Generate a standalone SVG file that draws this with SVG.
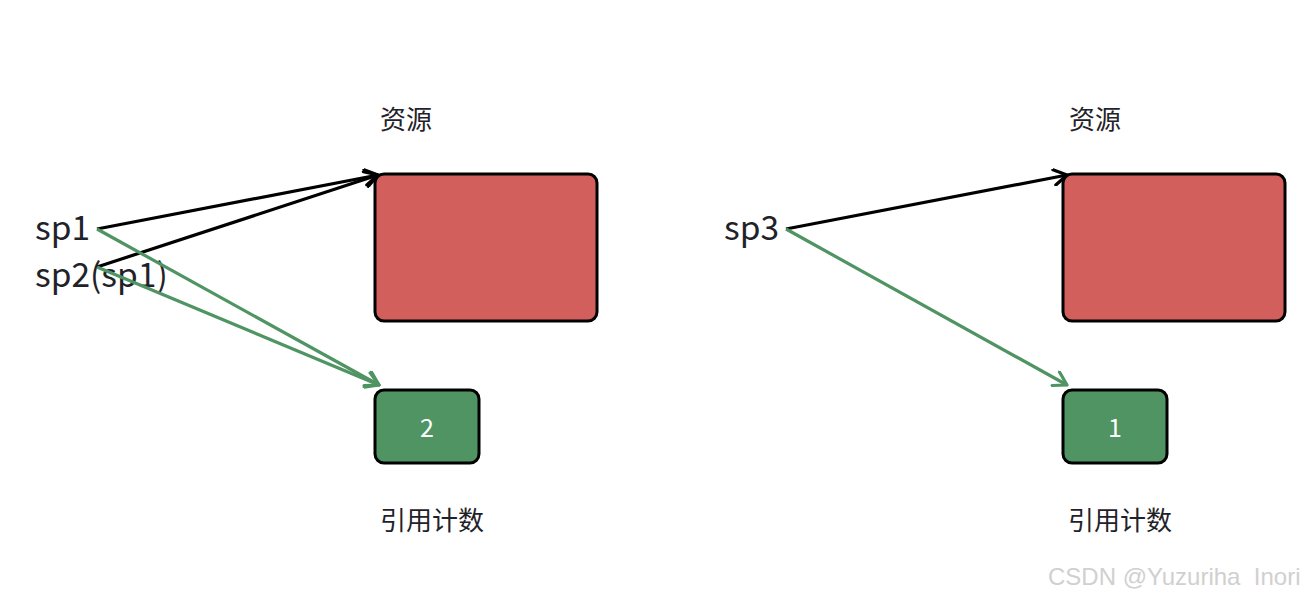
<svg xmlns="http://www.w3.org/2000/svg" width="1308" height="599" viewBox="0 0 1308 599">
<style>
.lbl{font-family:"Noto Sans CJK SC","Noto Sans",sans-serif;fill:#1f2329}
.sp{font-size:33.5px}
.cap{font-size:26px}
.res{fill:#d35f5c;stroke:#000;stroke-width:3}
.cnt{fill:#4f9462;stroke:#000;stroke-width:3}
.num{font-family:"Noto Sans CJK SC","Noto Sans",sans-serif;font-size:25px;fill:#fff;text-anchor:middle}
.blk{stroke:#000;stroke-width:3.2;fill:none;marker-end:url(#ab)}
.grn{stroke:#4f9462;stroke-width:3.2;fill:none;marker-end:url(#ag)}
.wm{font-family:"Liberation Sans",Arial,sans-serif;font-size:24px;fill:#d0d0d0}
</style>
<defs>
<marker id="ab" viewBox="0 0 14 14" refX="12" refY="7" markerWidth="18" markerHeight="18" markerUnits="userSpaceOnUse" orient="auto">
<path d="M2,1 L12,7 L2,13" fill="none" stroke="#000" stroke-width="2.5" stroke-linecap="round" stroke-linejoin="round"/>
</marker>
<marker id="ag" viewBox="0 0 14 14" refX="12" refY="7" markerWidth="18" markerHeight="18" markerUnits="userSpaceOnUse" orient="auto">
<path d="M2,1 L12,7 L2,13" fill="none" stroke="#4f9462" stroke-width="2.5" stroke-linecap="round" stroke-linejoin="round"/>
</marker>
</defs>
<rect width="1308" height="599" fill="#fff"/>
<g id="res1"><rect class="res" x="375" y="174" width="222" height="147" rx="9"/></g>
<g id="cnt1"><rect class="cnt" x="375" y="390" width="104" height="73" rx="9"/><text class="num" x="427" y="437">2</text></g>
<g id="res2"><rect class="res" x="1063" y="174" width="222" height="147" rx="9"/></g>
<g id="cnt2"><rect class="cnt" x="1063" y="390" width="104" height="73" rx="9"/><text class="num" x="1115" y="437">1</text></g>
<g id="labels">
<text class="lbl cap" x="380" y="129">资源</text>
<text class="lbl cap" x="380" y="530">引用计数</text>
<text class="lbl cap" x="1069" y="129">资源</text>
<text class="lbl cap" x="1068" y="530">引用计数</text>
</g>
<g id="sp1"><text class="lbl sp" x="35" y="240">sp1</text></g>
<g id="sp2"><text class="lbl sp" x="35" y="287">sp2(sp1)</text></g>
<g id="sp3"><text class="lbl sp" x="724" y="240">sp3</text></g>
<g id="connectors">
<line class="blk" x1="97" y1="229" x2="378" y2="175"/>
<line class="blk" x1="97" y1="267" x2="378" y2="175"/>
<line class="grn" x1="97" y1="229" x2="379" y2="385"/>
<line class="grn" x1="97" y1="267" x2="379" y2="385"/>
<line class="blk" x1="786" y1="229" x2="1067" y2="175"/>
<line class="grn" x1="786" y1="229" x2="1067" y2="385"/>
</g>
<text class="wm" x="1048" y="585" xml:space="preserve">CSDN @Yuzuriha  Inori</text>
</svg>
